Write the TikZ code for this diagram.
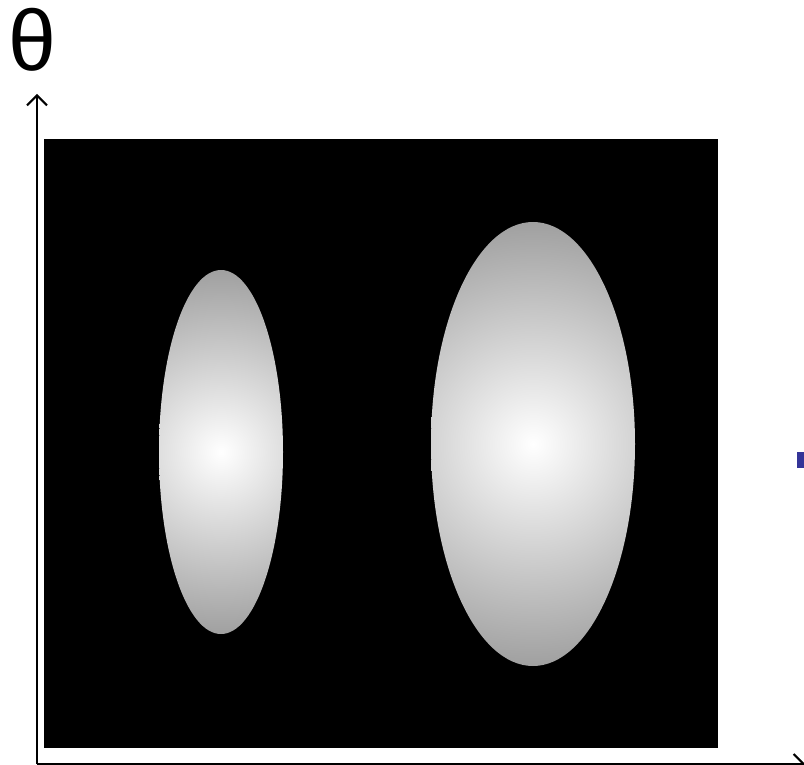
\documentclass[tikz,border=0pt]{standalone}
\usepackage{fontspec}
\setmainfont{Liberation Sans}
\usetikzlibrary{arrows.meta}
\definecolor{edgegray}{RGB}{160,160,160}
\definecolor{markblue}{RGB}{52,52,152}
\tikzset{
  axis/.style={line width=2.2pt,-{Straight Barb[length=10pt,width=20pt,line width=2pt]}},
  blob/.style={inner color=white,outer color=edgegray},
}
\begin{document}
\begin{tikzpicture}[x=1pt,y=-1pt]
\useasboundingbox (0,0) rectangle (804,765);
% black panel
\fill[black] (44,139) rectangle (718,748);
% left ellipse
\begin{scope}
  \clip (221,452) ellipse [x radius=62, y radius=182];
  \shade[blob] (221,452) circle (182);
\end{scope}
% right ellipse
\begin{scope}
  \clip (533,444) ellipse [x radius=102, y radius=222];
  \shade[blob] (533,444) circle (222);
\end{scope}
% blue mark
\fill[markblue] (797,452) rectangle (812,468);
% axes
\coordinate (o) at (37,764);
\coordinate (ytip) at (37,94);
\coordinate (xtip) at (805,764);
\draw[axis] (o) -- (ytip);
\draw[axis] (o) -- (xtip);
\node[anchor=base,inner sep=0,font=\fontsize{86}{86}\selectfont] (theta) at (32,71) {θ};
\end{tikzpicture}
\end{document}
